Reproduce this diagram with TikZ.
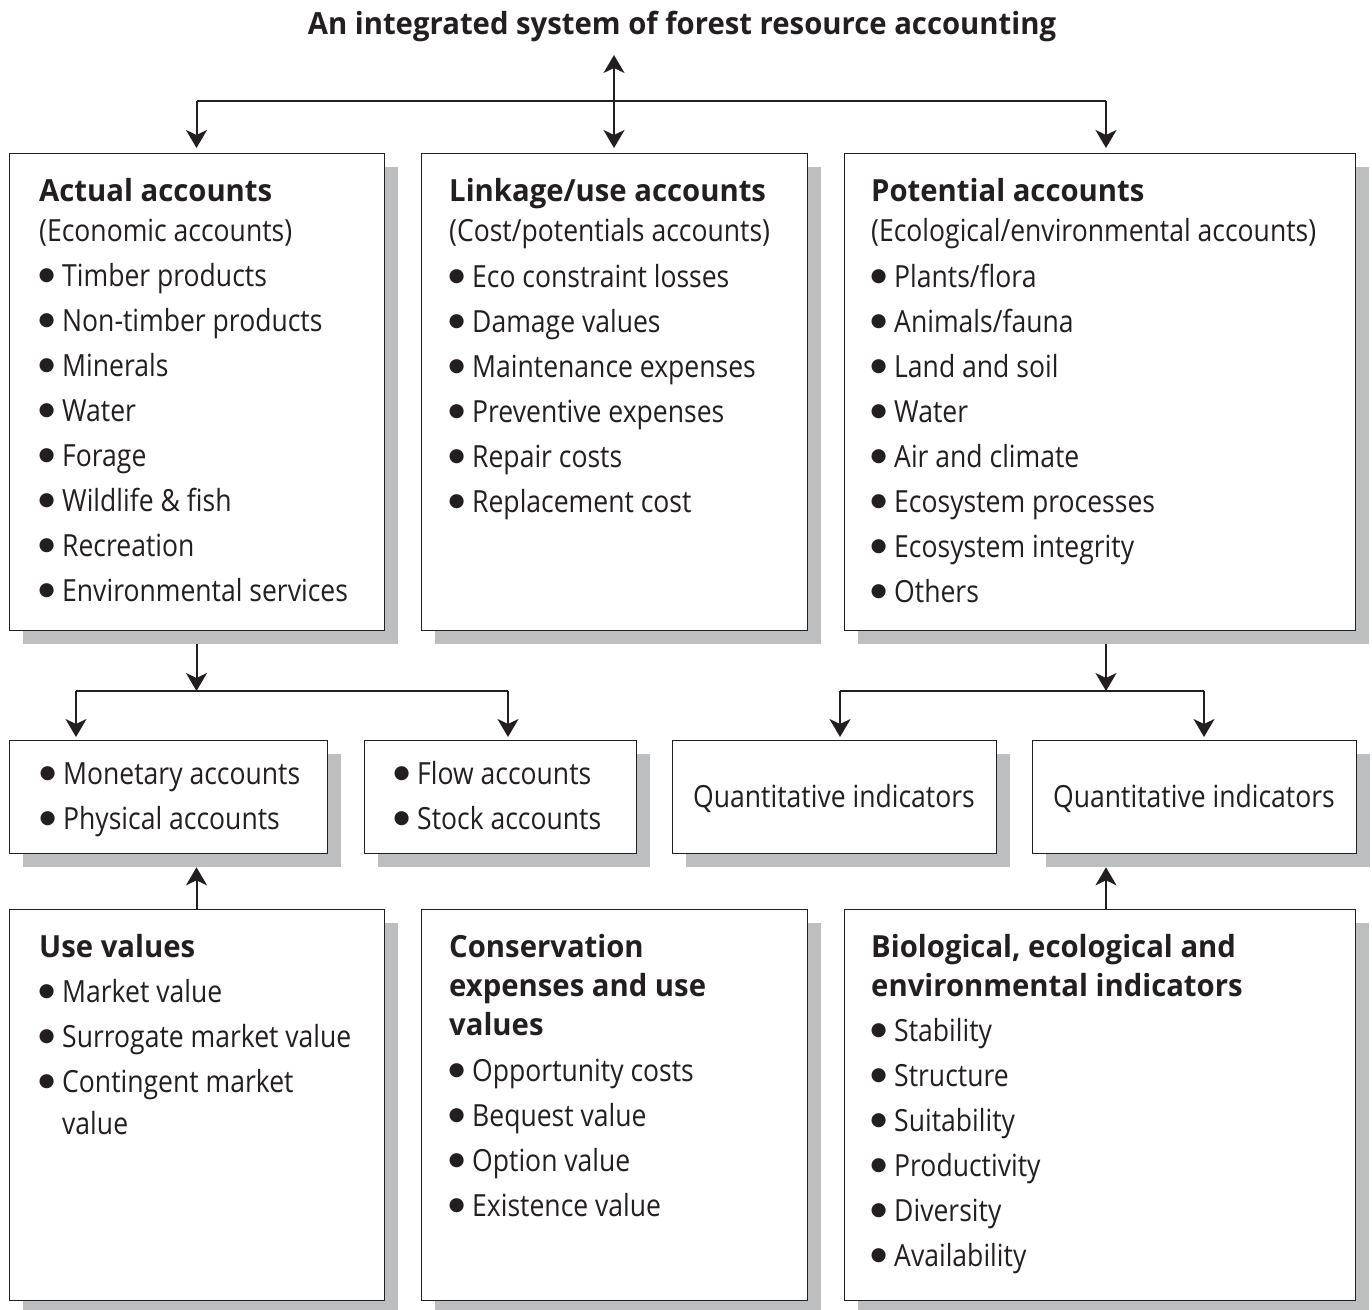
\documentclass[tikz,border=0pt]{standalone}
\usepackage{fontspec}
\setmainfont{Open Sans}[FakeStretch=0.87, BoldFeatures={FakeStretch=0.96}]
\newfontfamily\bulfont{DejaVu Sans}
\usetikzlibrary{shadows,arrows.meta,calc}
\definecolor{ink}{HTML}{231F20}
\definecolor{shade}{HTML}{BCBEC0}
\newcommand\bul{\makebox[22pt][l]{\hspace*{-1.5pt}\raisebox{5.5pt}{\bulfont\fontsize{18.5}{18.5}\selectfont ●}}}
\begin{document}
\begin{tikzpicture}[x=1pt,y=-1pt,
  box/.style={draw=ink, line width=1.3pt, fill=white, anchor=north west, inner sep=0pt,
    drop shadow={shadow xshift=13pt, shadow yshift=-13pt, fill=shade, opacity=1}},
  txt/.style={anchor=base west, inner sep=0pt, text=ink, font=\fontsize{30.5}{36}\selectfont},
  hd/.style={anchor=base west, inner sep=0pt, text=ink, font=\fontsize{30.5}{36}\selectfont\bfseries},
  wire/.style={draw=ink, line width=2pt},
  arr/.style={wire, -{Stealth[length=18pt,width=21pt,inset=5pt]}},
  arrb/.style={wire, {Stealth[length=18pt,width=21pt,inset=5pt]}-{Stealth[length=18pt,width=21pt,inset=5pt]}}]
\useasboundingbox (0,0) rectangle (1372,1309);

% title
\node[hd, anchor=base] (title) at (682,34) {An integrated system of forest resource accounting};

% boxes
\node[box, minimum width=375pt, minimum height=477pt] (act) at (9,153) {};
\node[box, minimum width=386pt, minimum height=477pt] (link) at (421,153) {};
\node[box, minimum width=511pt, minimum height=477pt] (pot) at (844,153) {};
\node[box, minimum width=318pt, minimum height=113pt] (mon) at (9,740) {};
\node[box, minimum width=272pt, minimum height=113pt] (flow) at (364,740) {};
\node[box, minimum width=324pt, minimum height=113pt] (q1) at (672,740) {};
\node[box, minimum width=324pt, minimum height=113pt] (q2) at (1032,740) {};
\node[box, minimum width=375pt, minimum height=391pt] (use) at (9,909) {};
\node[box, minimum width=386pt, minimum height=391pt] (cons) at (421,909) {};
\node[box, minimum width=511pt, minimum height=391pt] (bio) at (844,909) {};

% actual accounts
\node[hd] (acth) at (39,201) {Actual accounts};
\node[txt] (acts) at (39,241) {(Economic accounts)};
\foreach \t [count=\i from 0] in {Timber products, Non-timber products, Minerals, Water, Forage, Wildlife \& fish, Recreation, Environmental services}
  \node[txt] (act\i) at (40,{286+45*\i}) {\bul\t};

% linkage accounts
\node[hd] (linkh) at (449,201) {Linkage/use accounts};
\node[txt] (links) at (449,241) {(Cost/potentials accounts)};
\foreach \t [count=\i from 0] in {Eco constraint losses, Damage values, Maintenance expenses, Preventive expenses, Repair costs, Replacement cost}
  \node[txt] (link\i) at (450,{287+45*\i}) {\bul\t};

% potential accounts
\node[hd] (poth) at (871,201) {Potential accounts};
\node[txt] (pots) at (871,241) {(Ecological/environmental accounts)};
\foreach \t [count=\i from 0] in {Plants/flora, Animals/fauna, Land and soil, Water, Air and climate, Ecosystem processes, Ecosystem integrity, Others}
  \node[txt] (pot\i) at (872,{287+45*\i}) {\bul\t};

% middle row
\node[txt] (mon0) at (41,784) {\bul Monetary accounts};
\node[txt] (mon1) at (41,829) {\bul Physical accounts};
\node[txt] (flow0) at (395,784) {\bul Flow accounts};
\node[txt] (flow1) at (395,829) {\bul Stock accounts};
\node[txt, anchor=base] (q1t) at (834,807) {Quantitative indicators};
\node[txt, anchor=base] (q2t) at (1194,807) {Quantitative indicators};

% use values
\node[hd] (useh) at (39,957) {Use values};
\node[txt] (use0) at (40,1002) {\bul Market value};
\node[txt] (use1) at (40,1047) {\bul Surrogate market value};
\node[txt] (use2) at (40,1092) {\bul Contingent market};
\node[txt] (use3) at (62,1134) {value};

% conservation
\node[hd] (consh0) at (449,957) {Conservation};
\node[hd] (consh1) at (449,996) {expenses and use};
\node[hd] (consh2) at (449,1035) {values};
\foreach \t [count=\i from 0] in {Opportunity costs, Bequest value, Option value, Existence value}
  \node[txt] (cons\i) at (450,{1081+45*\i}) {\bul\t};

% biological
\node[hd] (bioh0) at (871,957) {Biological, ecological and};
\node[hd] (bioh1) at (871,996) {environmental indicators};
\foreach \t [count=\i from 0] in {Stability, Structure, Suitability, Productivity, Diversity, Availability}
  \node[txt] (bio\i) at (872,{1041+45*\i}) {\bul\t};

% top connectors
\coordinate (hubL) at (196.5,101);
\coordinate (hubM) at (614,101);
\coordinate (hubR) at (1106,101);
\draw[arrb] ([yshift=-21pt]title.base -| hubM) -- ([yshift=5pt]link.north -| hubM);
\draw[wire] (hubL) -- (hubR);
\draw[arr, shorten >=5pt] (hubL) -- (hubL |- act.north);
\draw[arr, shorten >=5pt] (hubR) -- (hubR |- pot.north);

% actual -> monetary / flow
\coordinate (jL) at (196.5,691);
\coordinate (jLa) at (76,691);
\coordinate (jLb) at (508,691);
\draw[arr] ([yshift=-13pt]act.south -| jL) -- (jL);
\draw[wire] (jLa) -- (jLb);
\draw[arr, shorten >=3pt] (jLa) -- (jLa |- mon.north);
\draw[arr, shorten >=3pt] (jLb) -- (jLb |- flow.north);

% potential -> quantitative
\coordinate (jR) at (1106,691);
\coordinate (jRa) at (840,691);
\coordinate (jRb) at (1204,691);
\draw[arr] ([yshift=-13pt]pot.south -| jR) -- (jR);
\draw[wire] (jRa) -- (jRb);
\draw[arr, shorten >=3pt] (jRa) -- (jRa |- q1.north);
\draw[arr, shorten >=3pt] (jRb) -- (jRb |- q2.north);

% bottom upward arrows
\coordinate (uL) at (196.5,909);
\coordinate (uR) at (1106,909);
\draw[arr, shorten >=13pt] (uL |- use.north) -- (uL |- mon.south);
\draw[arr, shorten >=13pt] (uR |- bio.north) -- (uR |- q2.south);
\end{tikzpicture}
\end{document}
